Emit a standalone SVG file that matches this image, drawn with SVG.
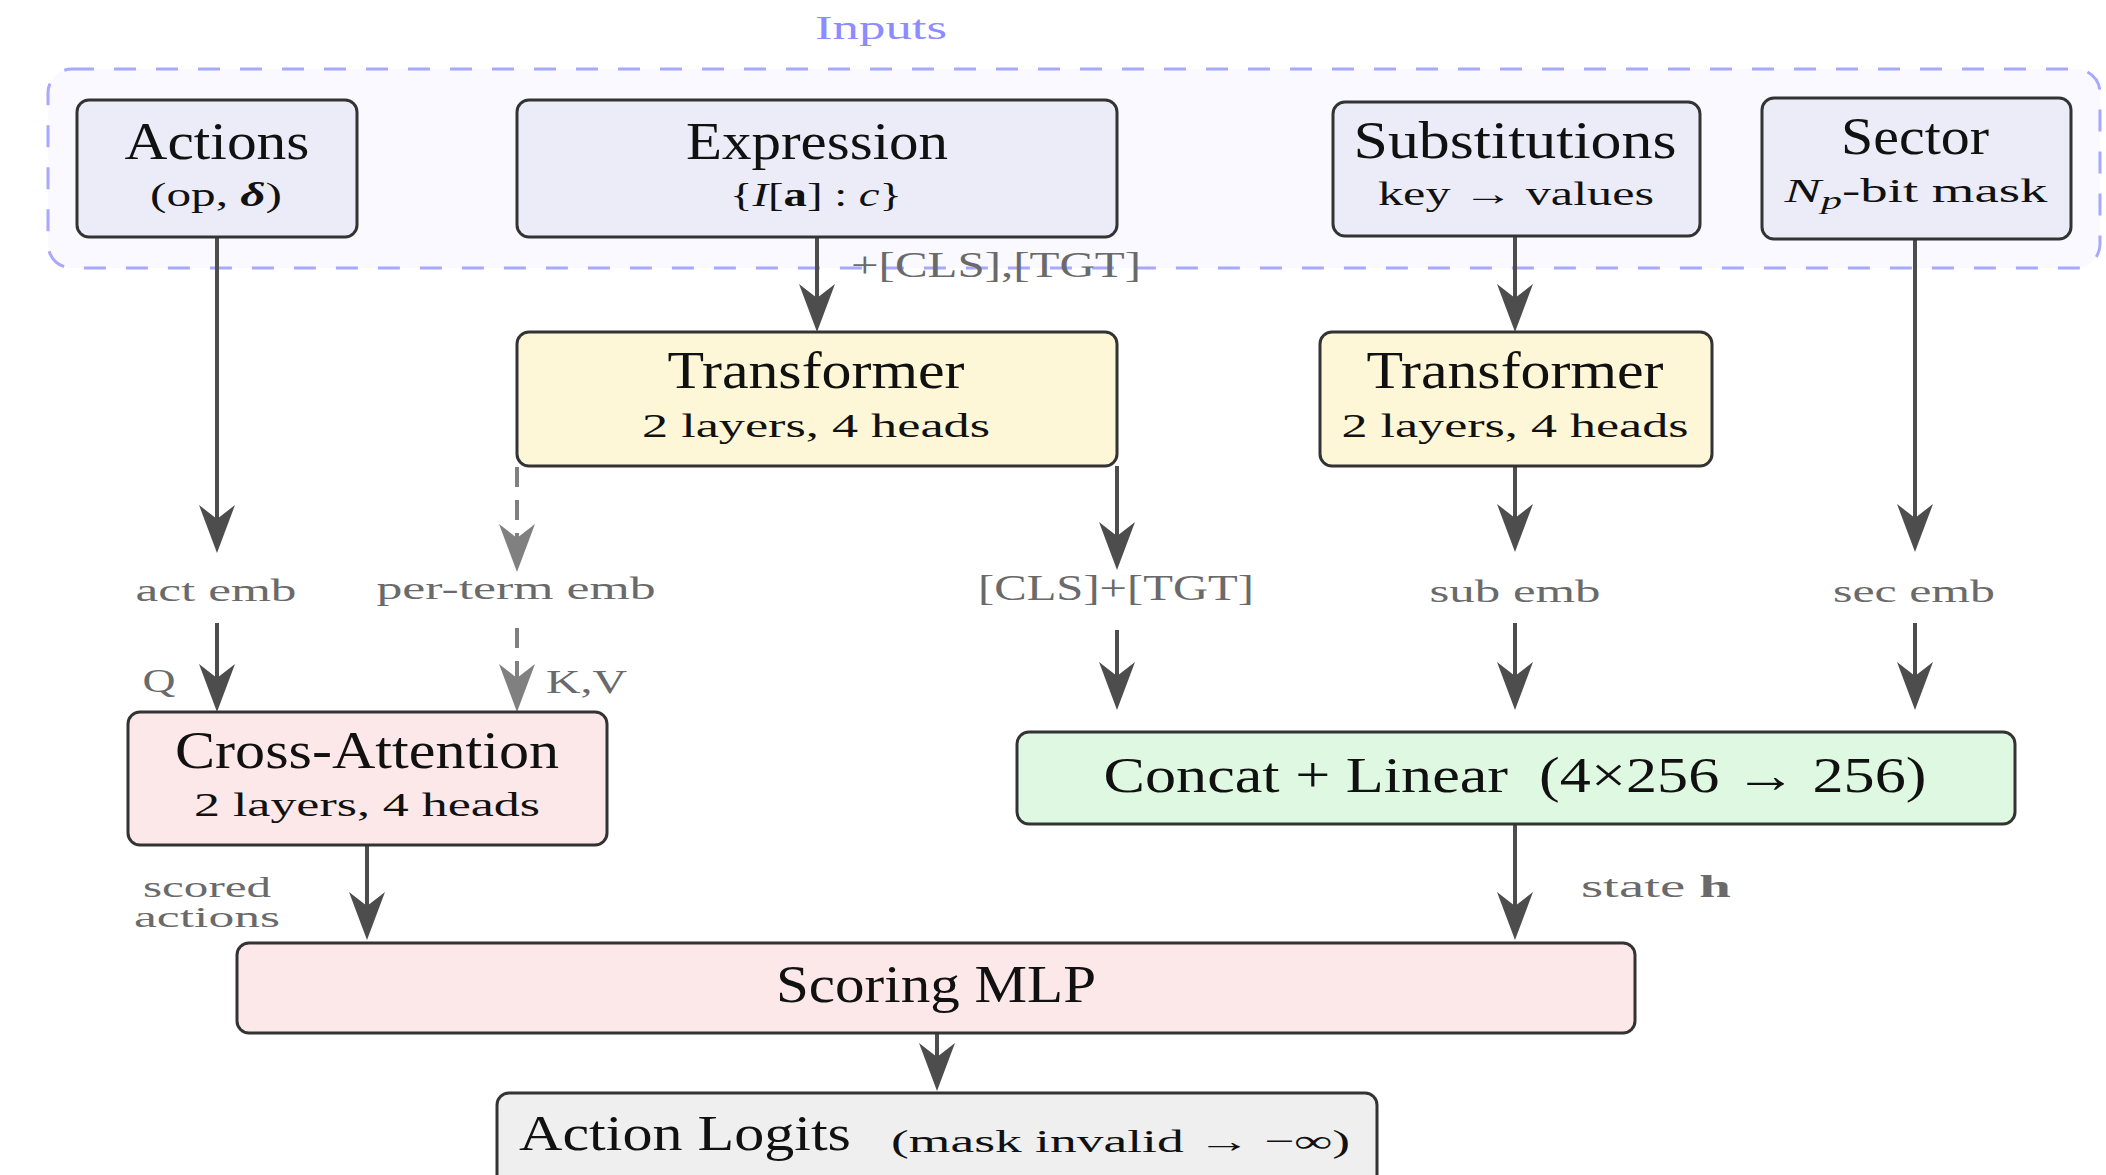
<svg xmlns="http://www.w3.org/2000/svg" width="2106" height="1175" viewBox="0 0 2106 1175">
<style>
  text { font-family: "Liberation Serif", "DejaVu Serif", serif; fill: #111; }
  .t { font-size: 52px; text-anchor: middle; }
  .s { font-size: 34px; text-anchor: middle; }
  .l { font-size: 31px; fill: #6a6a6a; }
  .lc { font-size: 31px; fill: #6a6a6a; text-anchor: middle; }
  .box { stroke: #333; stroke-width: 3; }
  .in { fill: #ececf8; }
  .tr { fill: #fdf7d8; }
  .pk { fill: #fce8e8; }
  .gr { fill: #dff8e2; }
  .lg { fill: #efefef; }
  .ar { stroke: #4d4d4d; stroke-width: 4; fill: none; marker-end: url(#ah); }
  .ad { stroke: #808080; stroke-width: 4; fill: none; stroke-dasharray: 20 13; marker-end: url(#ahg); }
</style>
<defs>
  <marker id="ah" markerUnits="userSpaceOnUse" markerWidth="50" markerHeight="40" viewBox="0 -20 50 40" refX="18" refY="0" orient="auto">
    <path d="M0,-18 L48,0 L0,18 L14,0 Z" fill="#4d4d4d"/>
  </marker>
  <marker id="ahg" markerUnits="userSpaceOnUse" markerWidth="50" markerHeight="40" viewBox="0 -20 50 40" refX="18" refY="0" orient="auto">
    <path d="M0,-18 L48,0 L0,18 L14,0 Z" fill="#808080"/>
  </marker>
</defs>
<rect width="2106" height="1175" fill="#fff"/>

<g id="inputs-group">
  <rect x="48" y="69" width="2052" height="199" rx="24" fill="#f9f9ff" stroke="#a8a8ff" stroke-width="3" stroke-dasharray="22 20"/>
  <text x="881" y="39" font-size="34" text-anchor="middle" style="fill:#8c8cff" textLength="132" lengthAdjust="spacingAndGlyphs">Inputs</text>
</g>

<g id="connectors">
  <line class="ar" x1="217" y1="237" x2="217" y2="523"/>
  <line class="ar" x1="817" y1="237" x2="817" y2="302"/>
  <line class="ar" x1="1515" y1="236" x2="1515" y2="302"/>
  <line class="ar" x1="1915" y1="239" x2="1915" y2="522"/>
  <line class="ad" x1="517" y1="467" x2="517" y2="542"/>
  <line class="ar" x1="1117" y1="466" x2="1117" y2="540"/>
  <line class="ar" x1="1515" y1="466" x2="1515" y2="522"/>
  <line class="ar" x1="217" y1="623" x2="217" y2="682"/>
  <line class="ad" x1="517" y1="628" x2="517" y2="682"/>
  <line class="ar" x1="1117" y1="630" x2="1117" y2="680"/>
  <line class="ar" x1="1515" y1="623" x2="1515" y2="680"/>
  <line class="ar" x1="1915" y1="623" x2="1915" y2="680"/>
  <line class="ar" x1="367" y1="845" x2="367" y2="910"/>
  <line class="ar" x1="1515" y1="824" x2="1515" y2="910"/>
  <line class="ar" x1="937" y1="1033" x2="937" y2="1061"/>
  <text class="l" x="851" y="277" style="font-size:36px" textLength="290" lengthAdjust="spacingAndGlyphs">+[CLS],[TGT]</text>
  <text class="lc" x="216" y="601" textLength="161" lengthAdjust="spacingAndGlyphs">act emb</text>
  <text class="lc" x="516" y="599" textLength="279" lengthAdjust="spacingAndGlyphs">per-term emb</text>
  <text class="lc" x="1116" y="600" style="font-size:35px" textLength="276" lengthAdjust="spacingAndGlyphs">[CLS]+[TGT]</text>
  <text class="lc" x="1515" y="602" textLength="171" lengthAdjust="spacingAndGlyphs">sub emb</text>
  <text class="lc" x="1914" y="602" textLength="162" lengthAdjust="spacingAndGlyphs">sec emb</text>
  <text class="lc" x="159" y="692" style="font-size:33px" textLength="33" lengthAdjust="spacingAndGlyphs">Q</text>
  <text class="l" x="546" y="693" style="font-size:33px" textLength="81" lengthAdjust="spacingAndGlyphs">K,V</text>
  <text class="lc" x="207" y="897" style="font-size:29px" textLength="128" lengthAdjust="spacingAndGlyphs">scored</text>
  <text class="lc" x="207" y="927" style="font-size:29px" textLength="146" lengthAdjust="spacingAndGlyphs">actions</text>
  <text class="l" x="1581" y="897" textLength="150" lengthAdjust="spacingAndGlyphs">state <tspan font-weight="bold" style="fill:#6a6a6a">h</tspan></text>
</g>

<g id="actions">
  <rect class="box in" x="77" y="100" width="280" height="137" rx="12"/>
  <text class="t" x="217" y="159" textLength="185" lengthAdjust="spacingAndGlyphs">Actions</text>
  <text class="s" x="216" y="206" textLength="132" lengthAdjust="spacingAndGlyphs">(op, <tspan font-weight="bold" font-style="italic">δ</tspan>)</text>
</g>

<g id="expression">
  <rect class="box in" x="517" y="100" width="600" height="137" rx="12"/>
  <text class="t" x="817" y="159" textLength="262" lengthAdjust="spacingAndGlyphs">Expression</text>
  <text class="s" x="816" y="206" textLength="172" lengthAdjust="spacingAndGlyphs">{<tspan font-style="italic">I</tspan>[<tspan font-weight="bold">a</tspan>] : <tspan font-style="italic">c</tspan>}</text>
</g>

<g id="substitutions">
  <rect class="box in" x="1333" y="102" width="367" height="134" rx="12"/>
  <text class="t" x="1515" y="158" textLength="323" lengthAdjust="spacingAndGlyphs">Substitutions</text>
  <text class="s" x="1516" y="205" textLength="276" lengthAdjust="spacingAndGlyphs">key → values</text>
</g>

<g id="sector">
  <rect class="box in" x="1762" y="98" width="309" height="141" rx="12"/>
  <text class="t" x="1915" y="154" textLength="148" lengthAdjust="spacingAndGlyphs">Sector</text>
  <text class="s" x="1916" y="202" textLength="263" lengthAdjust="spacingAndGlyphs"><tspan font-style="italic">N</tspan><tspan font-style="italic" font-size="26" dy="7">p</tspan><tspan dy="-7">-bit mask</tspan></text>
</g>

<g id="transformer-expr">
  <rect class="box tr" x="517" y="332" width="600" height="134" rx="12"/>
  <text class="t" x="816" y="388" textLength="297" lengthAdjust="spacingAndGlyphs">Transformer</text>
  <text class="s" x="816" y="437" textLength="348" lengthAdjust="spacingAndGlyphs">2 layers, 4 heads</text>
</g>

<g id="transformer-sub">
  <rect class="box tr" x="1320" y="332" width="392" height="134" rx="12"/>
  <text class="t" x="1515" y="388" textLength="297" lengthAdjust="spacingAndGlyphs">Transformer</text>
  <text class="s" x="1515" y="437" textLength="347" lengthAdjust="spacingAndGlyphs">2 layers, 4 heads</text>
</g>

<g id="cross-attention">
  <rect class="box pk" x="128" y="712" width="479" height="133" rx="12"/>
  <text class="t" x="367" y="768" textLength="384" lengthAdjust="spacingAndGlyphs">Cross-Attention</text>
  <text class="s" x="367" y="816" textLength="346" lengthAdjust="spacingAndGlyphs">2 layers, 4 heads</text>
</g>

<g id="concat-linear">
  <rect class="box gr" x="1017" y="732" width="998" height="92" rx="12"/>
  <text class="t" x="1515" y="792" style="font-size:50px" textLength="823" lengthAdjust="spacingAndGlyphs">Concat + Linear&#160;&#160;(4×256 → 256)</text>
</g>

<g id="scoring-mlp">
  <rect class="box pk" x="237" y="943" width="1398" height="90" rx="12"/>
  <text class="t" x="936" y="1002" textLength="320" lengthAdjust="spacingAndGlyphs">Scoring MLP</text>
</g>

<g id="action-logits">
  <rect class="box lg" x="497" y="1093" width="880" height="110" rx="12"/>
  <text x="519" y="1150" font-size="50" textLength="332" lengthAdjust="spacingAndGlyphs">Action Logits</text>
  <text x="891" y="1152" font-size="32" textLength="459" lengthAdjust="spacingAndGlyphs">(mask invalid → −∞)</text>
</g>
</svg>
